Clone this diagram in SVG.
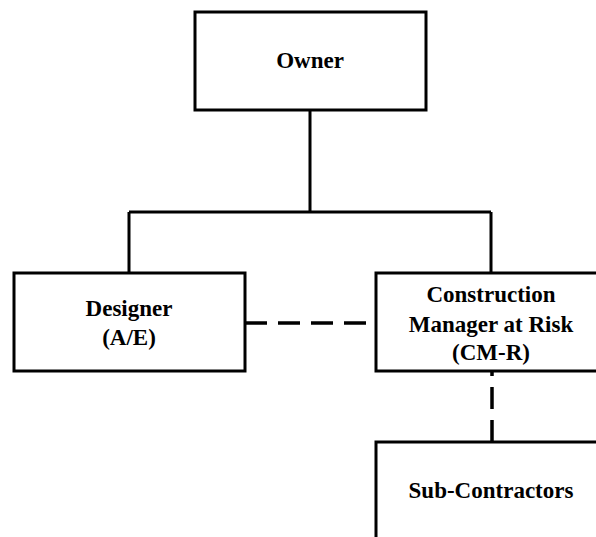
<svg xmlns="http://www.w3.org/2000/svg" width="596" height="537" viewBox="0 0 596 537">
<style>
.box{fill:#fff;stroke:#000;stroke-width:3}
.ln{fill:none;stroke:#000;stroke-width:3}
.dash{fill:none;stroke:#000;stroke-width:3.5;stroke-dasharray:22 11}
text{font-family:"Liberation Serif","Times New Roman",serif;font-weight:bold;font-size:23px;text-anchor:middle;fill:#000}
</style>
<g id="connectors">
<path class="ln" d="M310,110 V212 M129,212 H491 M129,212 V273 M491,212 V273"/>
<path class="dash" d="M245,323 H376"/>
<path class="dash" d="M492,442 V372"/>
</g>
<g id="owner">
<rect class="box" x="195" y="12" width="231" height="98"/>
<text x="310" y="68">Owner</text>
</g>
<g id="designer">
<rect class="box" x="14" y="273" width="231" height="98"/>
<text x="129" y="316">Designer</text>
<text x="129" y="345">(A/E)</text>
</g>
<g id="cmr">
<rect class="box" x="376" y="273" width="300" height="98"/>
<text x="491" y="302">Construction</text>
<text x="491" y="332">Manager at Risk</text>
<text x="491" y="360">(CM-R)</text>
</g>
<g id="subcontractors">
<rect class="box" x="376" y="442" width="300" height="200"/>
<text x="491" y="498">Sub-Contractors</text>
</g>
</svg>
